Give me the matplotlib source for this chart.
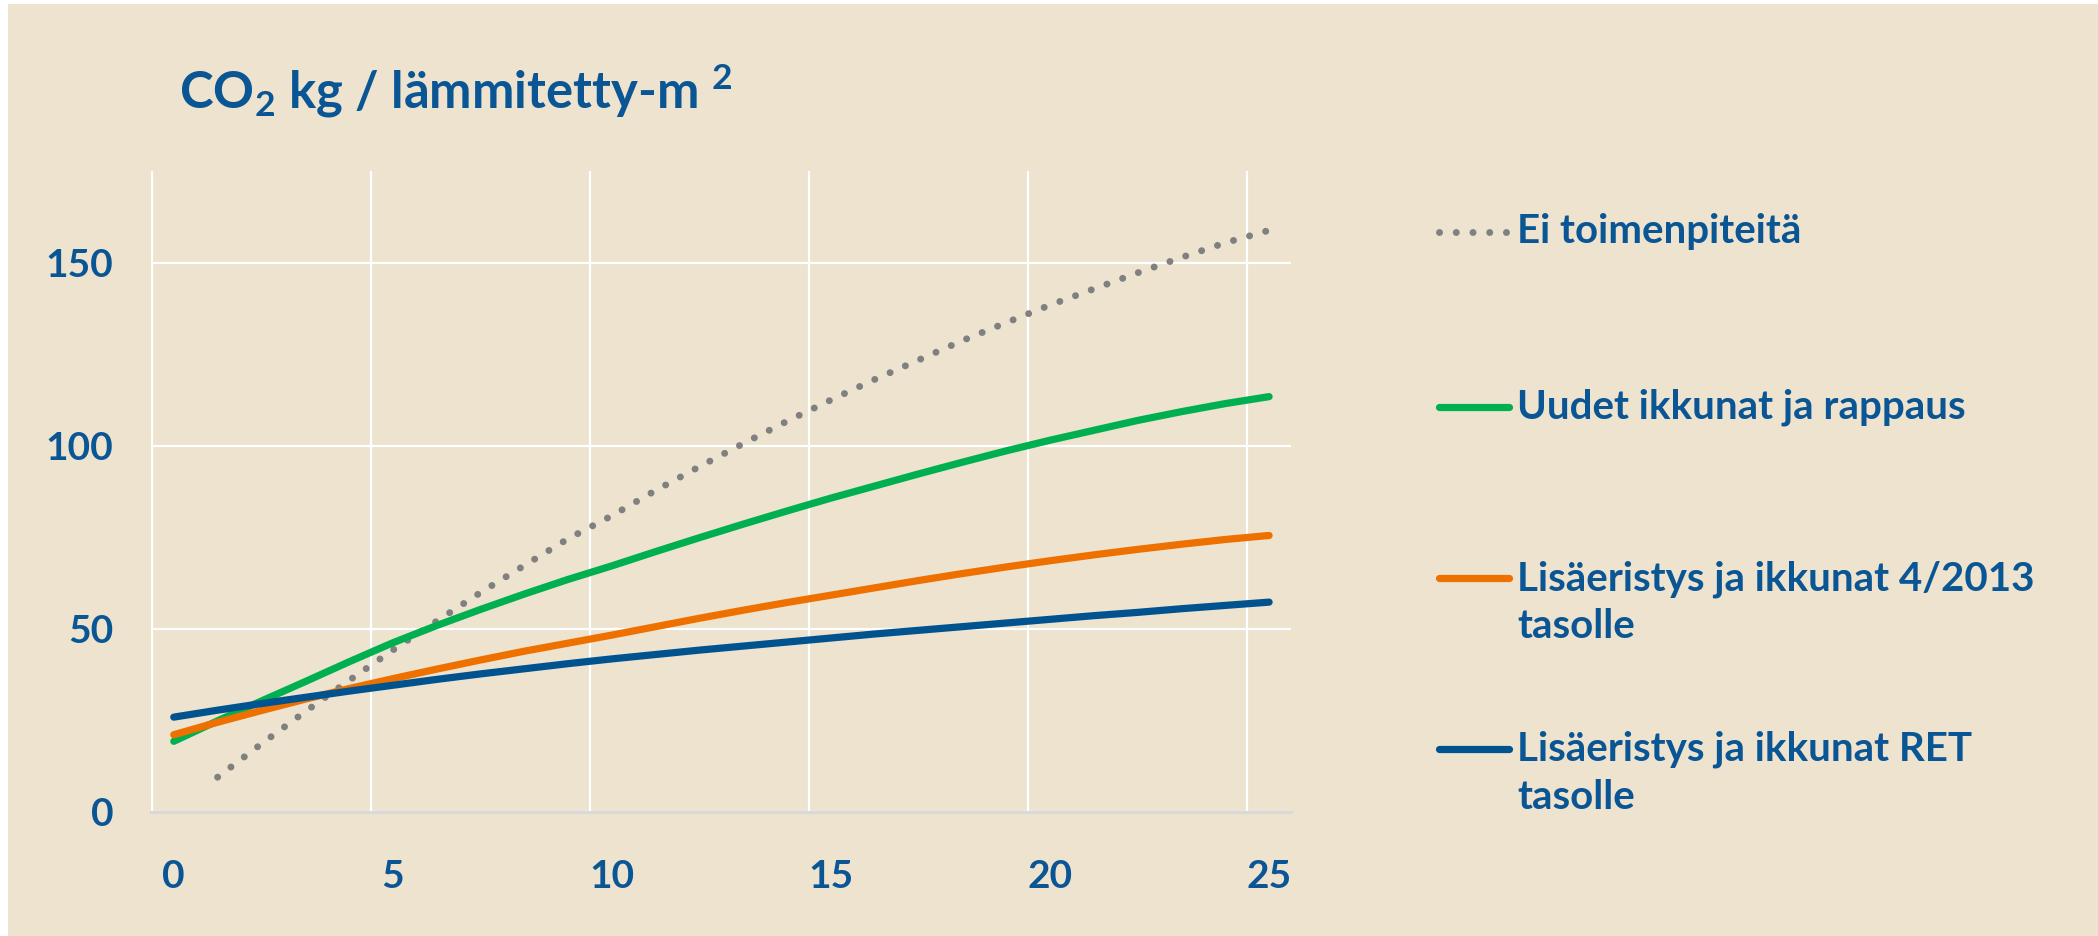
import matplotlib
matplotlib.use("Agg")
import matplotlib.pyplot as plt
from matplotlib.lines import Line2D
from matplotlib.patches import Rectangle

# ---- data ----
years = list(range(0, 26))
ei_years = list(range(1, 26))
ei_toimenpiteita = [9.5, 18.6, 27.4, 35.9, 44.2, 52.1, 59.9, 67.3, 74.6, 80.9,
                    87.8, 94.3, 100.6, 106.7, 112.5, 118.1, 123.4, 128.7, 133.6,
                    138.4, 142.8, 147.2, 151.4, 155.4, 158.8]
uudet_ikkunat = [19.3, 24.9, 30.3, 35.6, 41.0, 46.2, 50.9, 55.3, 59.5, 63.5,
                 67.2, 71.1, 74.9, 78.6, 82.2, 85.7, 89.0, 92.3, 95.5, 98.6,
                 101.5, 104.2, 106.9, 109.3, 111.5, 113.4]
lisa_2013 = [21.1, 24.5, 27.7, 30.8, 33.7, 36.4, 39.0, 41.5, 43.9, 46.1,
             48.3, 50.6, 52.9, 55.1, 57.2, 59.2, 61.2, 63.2, 65.1, 66.9,
             68.6, 70.2, 71.7, 73.1, 74.4, 75.5]
lisa_ret = [25.9, 27.8, 29.6, 31.3, 33.0, 34.6, 36.2, 37.7, 39.1, 40.5,
            41.8, 43.0, 44.2, 45.3, 46.4, 47.5, 48.6, 49.6, 50.6, 51.6,
            52.6, 53.6, 54.5, 55.5, 56.4, 57.3]
series_labels = ["Ei toimenpiteitä", "Uudet ikkunat ja rappaus",
                 "Lisäeristys ja ikkunat 4/2013\ntasolle",
                 "Lisäeristys ja ikkunat RET\ntasolle"]
x_ticks = [0, 5, 10, 15, 20, 25]
y_ticks = [0, 50, 100, 150]
title = r"CO$_2$ kg / lämmitetty-m $^2$"

# ---- style ----
BG = "#EDE3CF"
TXT = "#0A5594"
C_GRAY = "#808080"
C_GREEN = "#00B050"
C_ORANGE = "#EE7100"
C_BLUE = "#00538F"
FONT = ["Lato", "DejaVu Sans"]
plt.rcParams["font.family"] = FONT
plt.rcParams["font.weight"] = "bold"
plt.rcParams["mathtext.default"] = "regular"

W, H = 2098, 936
fig = plt.figure(figsize=(W / 100, H / 100), dpi=100, facecolor="white")
# beige panel with thin white margin at left/top
fig.add_artist(Rectangle((8 / W, 0), 1 - 8 / W, 1 - 4 / H,
                         transform=fig.transFigure, facecolor=BG,
                         edgecolor="none", zorder=0))
ax = fig.add_axes([151 / W, 1 - 812 / H, (1291 - 151) / W, (812 - 171) / H])
ax.set_facecolor(BG)

LW = 5.2
dot_lw = 5.0
DOTS = (0, (0.01, 2.4))
ax.plot(ei_years, ei_toimenpiteita, color=C_GRAY, lw=dot_lw,
        linestyle=DOTS, dash_capstyle="round", zorder=3)
ax.plot(years, uudet_ikkunat, color=C_GREEN, lw=LW, solid_capstyle="round", zorder=4)
ax.plot(years, lisa_2013, color=C_ORANGE, lw=LW, solid_capstyle="round", zorder=5)
ax.plot(years, lisa_ret, color=C_BLUE, lw=LW, solid_capstyle="round", zorder=6)

ax.set_xlim(-0.52, 25.5)
ax.set_ylim(0, 175)
ax.set_xticks(x_ticks)
ax.set_xticks([t - 0.5 for t in x_ticks], minor=True)
ax.set_yticks(y_ticks)
ax.grid(which="minor", axis="x", color="white", lw=1.6, zorder=1)
ax.grid(which="major", axis="y", color="white", lw=1.6, zorder=1)
ax.grid(which="major", axis="x", visible=False)
ax.set_axisbelow(True)
for s in ["left", "right", "top"]:
    ax.spines[s].set_visible(False)
ax.spines["bottom"].set_color("#D9D9D9")
ax.spines["bottom"].set_linewidth(2.2)
ax.tick_params(axis="both", which="both", length=0, labelsize=28, labelcolor=TXT)
ax.tick_params(axis="x", pad=34)
ax.tick_params(axis="y", pad=27)
for lab in ax.get_xticklabels() + ax.get_yticklabels():
    lab.set_fontweight("bold")

# title
fig.text(179 / W, 1 - 109 / H, title, fontsize=36.5, color=TXT,
         fontweight="bold", ha="left", va="baseline")

# legend (manual)
handle_y = [231.5, 406.7, 578, 749]
styles = [dict(color=C_GRAY, lw=dot_lw, linestyle=DOTS, dash_capstyle="round"),
          dict(color=C_GREEN, lw=LW, solid_capstyle="round"),
          dict(color=C_ORANGE, lw=LW, solid_capstyle="round"),
          dict(color=C_BLUE, lw=LW, solid_capstyle="round")]
for hy, st, lab in zip(handle_y, styles, series_labels):
    yf = 1 - hy / H
    fig.add_artist(Line2D([1439 / W, 1509 / W], [yf, yf], **st))
    lines = lab.split("\n")
    for i, ln in enumerate(lines):
        fig.text(1517 / W, 1 - (hy + 12 + 48 * i) / H, ln, fontsize=29,
                 color=TXT, fontweight="bold", ha="left", va="baseline")

fig.savefig("out.png", dpi=100, facecolor="white")
